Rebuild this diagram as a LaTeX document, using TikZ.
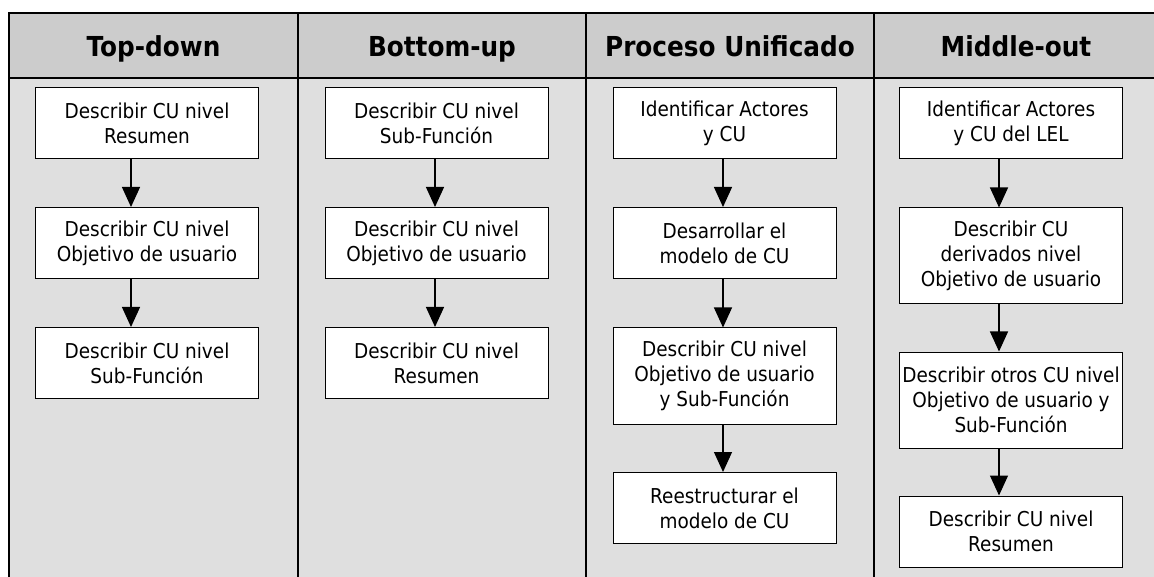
\documentclass[tikz,border=0pt]{standalone}
\usepackage{fontspec}
\setmainfont{DejaVu Sans}[FakeStretch=0.9]
\usetikzlibrary{arrows.meta}
\definecolor{headgray}{gray}{0.8}
\definecolor{lanegray}{gray}{0.875}
\tikzset{
  lane/.style={anchor=base, inner sep=0pt, font=\fontsize{27.5}{30}\selectfont\bfseries},
  stepbox/.style={draw, line width=1pt, fill=white, minimum width=223pt, minimum height=71pt,
    inner sep=0pt, align=center, font=\fontsize{20.5}{25}\selectfont},
  tallbox/.style={stepbox, minimum height=96pt},
  flow/.style={line width=1.2pt, -{Triangle[width=18pt,length=20pt]}}
}
\begin{document}
\begin{tikzpicture}[x=1pt,y=-1pt]
      \useasboundingbox (0,0) rectangle (1154,577);
      \clip (0,0) rectangle (1154,577);
      \fill[lanegray] (9,78) rectangle (1170,590);
      \fill[headgray] (9,13) rectangle (1170,78);
      \begin{scope}[line width=1.4pt]
        \draw (1170,13) -- (9,13) -- (9,590);
        \draw (9,78) -- (1170,78);
        \draw (298,13) -- (298,590);
        \draw (586,13) -- (586,590);
        \draw (874,13) -- (874,590);
      \end{scope}
      \draw
        (153.5,57) node[lane] (h1){Top-down}
        (442,57) node[lane] (h2){Bottom-up}
        (730,57) node[lane] (h3){Proceso Unificado}
        (1016,57) node[lane] (h4){Middle-out};
      \draw
        (147,123.5) node[stepbox] (td1){Describir CU nivel\\Resumen}
        (147,243) node[stepbox] (td2){Describir CU nivel\\Objetivo de usuario}
        (147,363) node[stepbox] (td3){Describir CU nivel\\Sub-Función}
        (436.5,123.5) node[stepbox] (bu1){Describir CU nivel\\Sub-Función}
        (436.5,243) node[stepbox] (bu2){Describir CU nivel\\Objetivo de usuario}
        (436.5,363) node[stepbox] (bu3){Describir CU nivel\\Resumen}
        (724.5,123.5) node[stepbox] (pu1){Identificar Actores\\y CU}
        (724.5,243) node[stepbox] (pu2){Desarrollar el\\modelo de CU}
        (724.5,376) node[tallbox] (pu3){Describir CU nivel\\Objetivo de usuario\\y Sub-Función}
        (724.5,508) node[stepbox] (pu4){Reestructurar el\\modelo de CU}
        (1011,123.5) node[stepbox] (mo1){Identificar Actores\\y CU del LEL}
        (1011,256) node[tallbox] (mo2){Describir CU\\derivados nivel\\Objetivo de usuario}
        (1011,400) node[tallbox] (mo3){Describir otros CU nivel\\Objetivo de usuario y\\Sub-Función}
        (1011,531.5) node[stepbox] (mo4){Describir CU nivel\\Resumen};
      \begin{scope}[flow]
        \draw ([xshift=-16pt]td1.south) to ([xshift=-16pt]td2.north);
        \draw ([xshift=-16pt]td2.south) to ([xshift=-16pt]td3.north);
        \draw ([xshift=-1.5pt]bu1.south) to ([xshift=-1.5pt]bu2.north);
        \draw ([xshift=-1.5pt]bu2.south) to ([xshift=-1.5pt]bu3.north);
        \draw ([xshift=-1.5pt]pu1.south) to ([xshift=-1.5pt]pu2.north);
        \draw ([xshift=-1.5pt]pu2.south) to ([xshift=-1.5pt]pu3.north);
        \draw ([xshift=-1.5pt]pu3.south) to ([xshift=-1.5pt]pu4.north);
        \draw ([xshift=-12pt]mo1.south) to ([xshift=-12pt]mo2.north);
        \draw ([xshift=-12pt]mo2.south) to ([xshift=-12pt]mo3.north);
        \draw ([xshift=-12pt]mo3.south) to ([xshift=-12pt]mo4.north);
      \end{scope}
    \end{tikzpicture}
\end{document}
